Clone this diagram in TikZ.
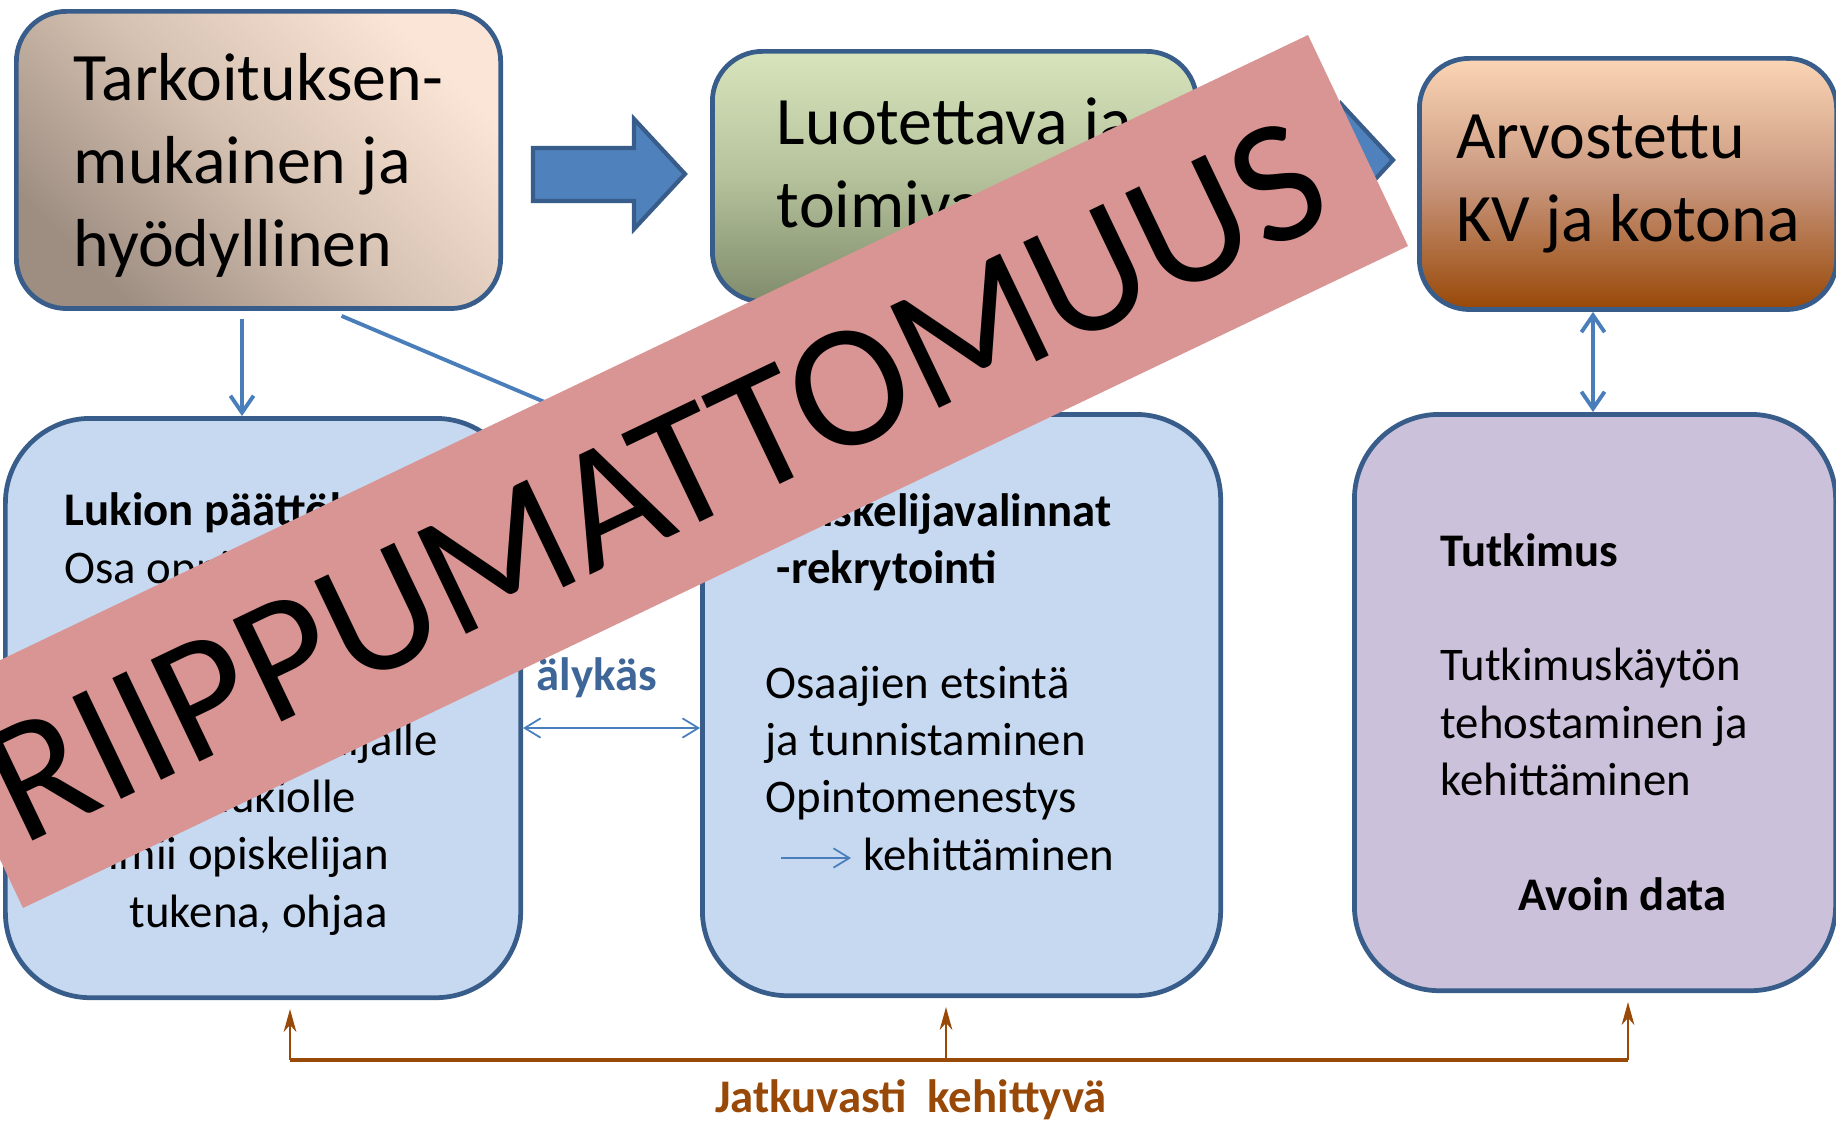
\documentclass[tikz,border=0pt]{standalone}
\usepackage{fontspec}
\setmainfont{Carlito}
\usetikzlibrary{arrows.meta}
\definecolor{rimblue}{HTML}{385D8A}
\definecolor{paleblue}{HTML}{C6D9F1}
\definecolor{palelilac}{HTML}{CCC1DA}
\definecolor{linkblue}{HTML}{4A7EBB}
\definecolor{fatblue}{HTML}{4F81BD}
\definecolor{stamppink}{HTML}{D99594}
\definecolor{rust}{HTML}{984807}
\definecolor{smartblue}{HTML}{3E6699}
\definecolor{tarklight}{HTML}{FBE5D6}
\definecolor{tarkmid}{HTML}{D6C2B2}
\definecolor{tarkdark}{HTML}{9E8E82}
\definecolor{luotlight}{HTML}{D8E4BC}
\definecolor{luotmid}{HTML}{B5C29B}
\definecolor{luotdark}{HTML}{808C6C}
\definecolor{arvolight}{HTML}{FBD5B5}
\definecolor{arvomid}{HTML}{C8967D}
\definecolor{arvodark}{HTML}{984807}
\tikzset{
  topbox/.style={draw=rimblue,line width=1.35pt,rounded corners=0.5cm,anchor=north west,align=left,
    font=\fontsize{19.3pt}{23.6pt}\selectfont},
  lowbox/.style={draw=rimblue,line width=1.35pt,rounded corners=0.85cm,anchor=north west},
  boxtext/.style={anchor=base west,align=left,inner sep=0pt,font=\fontsize{13.3pt}{16.3pt}\selectfont},
  link/.style={draw=linkblue,line width=1.1pt},
  thinlink/.style={draw=linkblue,line width=0.5pt,>={Straight Barb[length=4.5pt,width=5.5pt]}},
  fatarrow/.style={fill=fatblue,draw=rimblue,line width=1.2pt},
  bus/.style={draw=rust,line width=1.4pt},
  busarrow/.style={draw=rust,line width=0.7pt,-{Stealth[length=6.5pt,width=3.6pt,inset=2pt]}}
}
\begin{document}
\begin{tikzpicture}[x=0.01cm,y=-0.01cm,>={Straight Barb[length=4.8pt,width=6.6pt]}]
  \useasboundingbox (0,0) rectangle (1836,1121);
  \node[topbox,minimum width=4.84cm,minimum height=2.97cm,top color=tarklight,bottom color=tarkdark,
    middle color=tarkmid,shading angle=-45,text depth=-0.03cm] (tark) at (14,9) {Tarkoituksen-\\mukainen ja\\hyödyllinen};
  \node[topbox,minimum width=4.84cm,minimum height=2.50cm,top color=luotlight,bottom color=luotdark,
    middle color=luotmid,text height=1.03cm] (luot) at (710,49) {Luotettava ja\\toimiva};
  \node[topbox,minimum width=4.17cm,minimum height=2.51cm,top color=arvolight,bottom color=arvodark,
    middle color=arvomid] (arvo) at (1417,56) {Arvostettu\\KV ja kotona};

  \node[lowbox,fill=paleblue,minimum width=5.15cm,minimum height=5.79cm] (lukio) at (3,416) {};
  \node[lowbox,fill=paleblue,minimum width=5.18cm,minimum height=5.81cm] (valinta) at (700,412) {};
  \node[lowbox,fill=palelilac,minimum width=4.81cm,minimum height=5.76cm] (tutk) at (1352,412) {};

  \node[boxtext] (lukiotxt) at (64,927) {\textbf{Lukion päättökoe}\\Osa oppimisprosessia\\ \\Antaa tietoa\\
    Palaute opiskelijalle\\ja myös lukiolle\\Toimii opiskelijan\\\hspace*{0.65cm}tukena, ohjaa};
  \node[boxtext] (valintatxt) at (765,870) {\textbf{Opiskelijavalinnat}\\\hspace*{0.11cm}\textbf{-rekrytointi}\\ \\
    Osaajien etsintä\\ja tunnistaminen\\Opintomenestys\\\hspace*{0.98cm}kehittäminen};
  \node[boxtext] (tutktxt) at (1440,910) {\textbf{Tutkimus}\\ \\Tutkimuskäytön\\tehostaminen ja\\kehittäminen\\ \\
    \hspace*{0.78cm}\textbf{Avoin data}};

  \draw[fatarrow] (533,148) -- (634,148) -- (634,119) -- (685,174) -- (634,229) -- (634,201) -- (533,201) -- cycle;
  \draw[fatarrow] (1241,134) -- (1342,134) -- (1342,105) -- (1393,160) -- (1342,215) -- (1342,187) -- (1241,187) -- cycle;

  \coordinate (ad) at (242,0);
  \coordinate (cf) at (1593,0);
  \coordinate (aly) at (0,728);
  \coordinate (sidelink) at (620,434);
  \draw[link,->,shorten <=0.08cm] (tark.south -| ad) -- (lukio.north -| ad);
  \draw[link] ([xshift=0.83cm,yshift=-0.05cm]tark.south) -- (sidelink);
  \draw[link,<->] (arvo.south -| cf) -- (tutk.north -| cf);
  \draw[thinlink,<->] (lukio.east |- aly) -- (valinta.west |- aly);
  \node[font=\fontsize{13.3pt}{16.3pt}\selectfont\bfseries,text=smartblue] (alykas) at (597,678) {älykäs};
  \coordinate (kehstart) at (781,858);
  \coordinate (kehend) at (851,858);
  \draw[thinlink,->] (kehstart) -- (kehend);

  \coordinate (busL) at (290,1060);
  \coordinate (busM) at (946,1060);
  \coordinate (busR) at (1628,1060);
  \draw[bus] (busL) -- (busR);
  \foreach \p/\b in {busL/lukio,busM/valinta,busR/tutk}
    \draw[busarrow,shorten >=0.09cm] (\p) -- (\p |- \b.south);
  \node[font=\fontsize{13.3pt}{16.3pt}\selectfont\bfseries,text=rust] (jatk) at (911,1100) {Jatkuvasti\ \ kehittyvä};

  \fill[stamppink] (-77,697) -- (1308,35) -- (1408,246) -- (23,908) -- cycle;
  \node[rotate=25.55,anchor=base,inner sep=0pt,font=\fontsize{50pt}{50pt}\selectfont] (stamp) at (680,532) {RIIPPUMATTOMUUS};
\end{tikzpicture}
\end{document}
